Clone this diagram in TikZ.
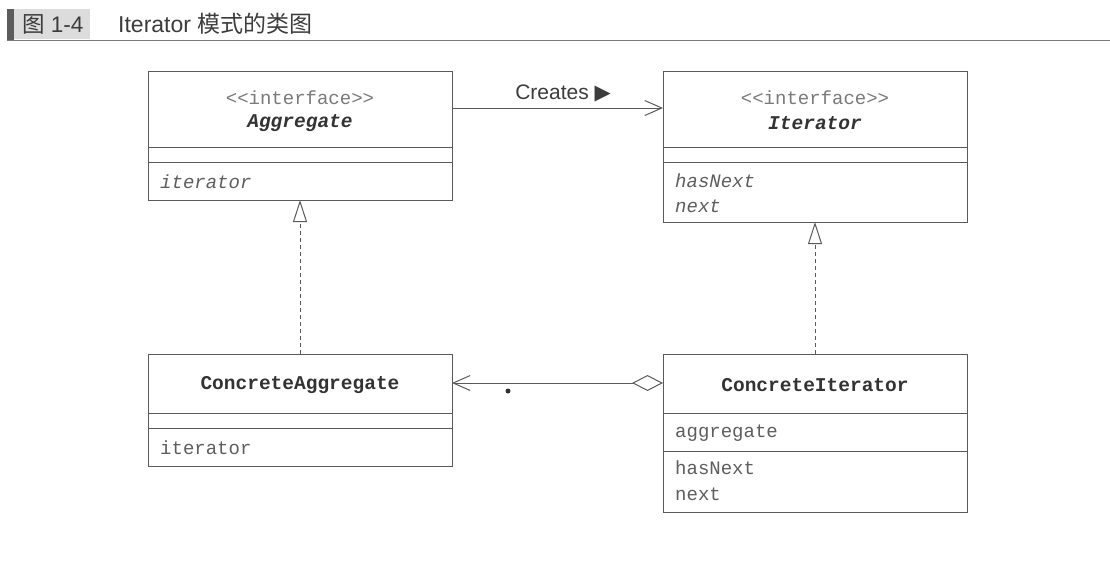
\documentclass[tikz,border=0pt]{standalone}
\usepackage{fontspec}
\setmainfont{Liberation Sans}
\setsansfont{Liberation Sans}
\setmonofont{Liberation Mono}
\newfontfamily\cjk{Noto Sans CJK SC}
\newfontfamily\symb{DejaVu Sans}
\usetikzlibrary{arrows.meta}

\definecolor{linec}{HTML}{5A5A5A}
\definecolor{stereoc}{HTML}{7A7A7A}
\definecolor{namec}{HTML}{333333}
\definecolor{memberc}{HTML}{5E5E5E}
\definecolor{titlec}{HTML}{3C3C3C}
\definecolor{barbg}{HTML}{DCDCDC}
\definecolor{bardark}{HTML}{5C5C5C}

\tikzset{
  classbox/.style={draw=linec, line width=1pt, fill=white, rectangle,
    anchor=north west, inner sep=0pt, outer sep=0pt},
  sepline/.style={draw=linec, line width=1pt},
  mono/.style={font=\fontsize{19}{22}\selectfont\ttfamily, inner sep=0pt},
  stereo/.style={mono, text=stereoc},
  ifname/.style={font=\fontsize{19.5}{22}\selectfont\ttfamily\bfseries\itshape, text=namec, inner sep=0pt},
  clname/.style={font=\fontsize{19.5}{22}\selectfont\ttfamily\bfseries, text=namec, inner sep=0pt},
  member/.style={mono, text=memberc, anchor=west},
  absmember/.style={member, font=\fontsize{19}{22}\selectfont\ttfamily\itshape},
  conn/.style={draw=linec, line width=1pt},
  openbarb/.tip={Straight Barb[length=17pt, width=15pt, line width=1pt]},
  hollowdiamond/.tip={Diamond[open, length=31pt, width=16pt, line width=1pt, fill=white]},
  realize/.style={conn, dash pattern=on 4.5pt off 2.5pt,
    -{Triangle[open, length=22pt, width=14pt, line width=1pt, fill=white]}},
}

\begin{document}
\begin{tikzpicture}[x=1pt, y=-1pt]
\useasboundingbox (0,0) rectangle (1110,560);

% caption bar
\fill[bardark] (7,9) rectangle (14,41);
\fill[barbg] (14,9) rectangle (90,39);
\draw[linec!80, line width=1.2pt] (7,40.5) -- (1110,40.5);
\node[anchor=west, inner sep=0pt, text=titlec, font=\fontsize{22.5}{26}\selectfont] (fignum) at (22,24) {{\cjk 图} 1-4};
\node[anchor=west, inner sep=0pt, text=titlec, font=\fontsize{23}{26}\selectfont] (figtitle) at (118,24) {Iterator {\cjk 模式的类图}};

% Aggregate
\node[classbox, minimum width=304pt, minimum height=129pt] (agg) at (148,71) {};
\draw[sepline] (agg.west |- 0,147) -- (agg.east |- 0,147);
\draw[sepline] (agg.west |- 0,162) -- (agg.east |- 0,162);
\node[stereo] (aggst) at (300,98) {<<interface>>};
\node[ifname] (aggname) at (300,123) {Aggregate};
\node[absmember] (aggit) at (160,182) {iterator};

% Iterator
\node[classbox, minimum width=304pt, minimum height=151pt] (itr) at (663,71) {};
\draw[sepline] (itr.west |- 0,147) -- (itr.east |- 0,147);
\draw[sepline] (itr.west |- 0,162) -- (itr.east |- 0,162);
\node[stereo] (itrst) at (815,98) {<<interface>>};
\node[ifname] (itrname) at (815,123) {Iterator};
\node[absmember] (itrhas) at (675,181) {hasNext};
\node[absmember] (itrnext) at (675,206) {next};

% ConcreteAggregate
\node[classbox, minimum width=304pt, minimum height=112pt] (cagg) at (148,354) {};
\draw[sepline] (cagg.west |- 0,413) -- (cagg.east |- 0,413);
\draw[sepline] (cagg.west |- 0,428) -- (cagg.east |- 0,428);
\node[clname] (caggname) at (300,385) {ConcreteAggregate};
\node[member] (caggit) at (160,448) {iterator};

% ConcreteIterator
\node[classbox, minimum width=304pt, minimum height=158pt] (citr) at (663,354) {};
\draw[sepline] (citr.west |- 0,413) -- (citr.east |- 0,413);
\draw[sepline] (citr.west |- 0,451) -- (citr.east |- 0,451);
\node[clname] (citrname) at (815,385) {ConcreteIterator};
\node[member] (citragg) at (675,433) {aggregate};
\node[member] (citrhas) at (675,468) {hasNext};
\node[member] (citrnext) at (675,494) {next};

% Creates association
\draw[conn, -{openbarb}] (agg.east |- 0,108) -- (itr.west |- 0,108);
\node[inner sep=0pt, text=titlec, font=\fontsize{21}{24}\selectfont] (creates) at (563,93) {Creates {\symb\fontsize{21}{24}\selectfont ▶}};

% realizations
\draw[realize] (cagg.north) -- (agg.south);
\draw[realize] (citr.north) -- (itr.south);

% aggregation
\draw[conn, {hollowdiamond}-{openbarb}]
  (citr.west |- 0,383) -- (cagg.east |- 0,383);
\fill[namec] (508,391) circle (2.5pt);
\end{tikzpicture}
\end{document}
